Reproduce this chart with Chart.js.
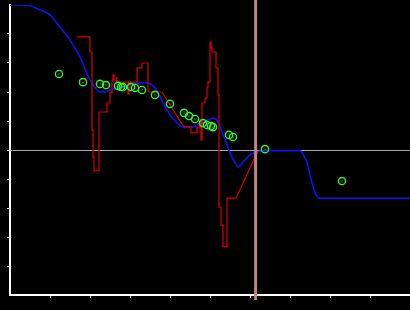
<!DOCTYPE html>
<html>
<head>
<meta charset="utf-8">
<script src="https://cdn.jsdelivr.net/npm/chart.js@4.4.1/dist/chart.umd.min.js"></script>
<style>
    html, body { margin: 0; padding: 0; background: #000; }
    #wrap { width: 410px; height: 310px; }
</style>
</head>
<body>
<div id="wrap"><canvas id="fitChart" width="410" height="310"></canvas></div>
<script>
// Smooth model curve (blue)
const blueX = [0, 0.25, 0.5, 0.75, 1, 1.25, 1.5, 1.75, 2, 2.13, 2.25, 2.38, 2.5, 2.75, 3, 3.25, 3.45, 3.58, 3.68, 3.83, 4, 4.18, 4.33, 4.58, 4.75, 4.93, 5.08, 5.2, 5.3, 5.4, 5.5, 5.63, 5.7, 5.83, 6, 6.13, 6.3, 7.25, 7.35, 7.43, 7.5, 7.58, 7.65, 7.73, 10];
const blueY = [5, 5, 4.97, 4.83, 4.66, 4.24, 3.79, 3.21, 2.41, 2.14, 2.0, 2.0, 2.07, 2.14, 2.24, 2.31, 2.31, 2.21, 2.03, 1.62, 1.21, 0.93, 0.79, 0.79, 0.93, 1.03, 1.10, 0.97, 0.62, 0.28, -0.10, -0.45, -0.59, -0.41, -0.17, -0.10, -0.03, -0.03, -0.21, -0.45, -0.86, -1.28, -1.55, -1.66, -1.66];

// Raw step signal (red), corner by corner
const redX = [1.675, 2, 2, 2.05, 2.05, 2.075, 2.075, 2.1, 2.1, 2.225, 2.225, 2.425, 2.425, 2.5, 2.5, 2.55, 2.55, 2.575, 2.575, 2.6, 2.6, 2.65, 2.65, 2.675, 2.675, 2.95, 2.95, 2.975, 2.975, 3.175, 3.175, 3.3, 3.3, 3.45, 3.45, 3.8, 4.05, 4.3, 4.375, 4.525, 4.525, 4.675, 4.675, 4.75, 4.75, 4.775, 4.775, 4.8, 4.8, 4.875, 4.875, 4.925, 4.925, 4.95, 4.95, 5, 5, 5.025, 5.025, 5.05, 5.05, 5.15, 5.15, 5.2, 5.2, 5.225, 5.225, 5.275, 5.275, 5.325, 5.325, 5.425, 5.425, 5.65, 6.2];
const redY = [3.90, 3.90, 3.38, 3.38, 0.69, 0.69, -0.24, -0.24, -0.72, -0.72, 1.31, 1.31, 1.62, 1.62, 1.97, 1.97, 2.41, 2.41, 2.59, 2.59, 2.41, 2.41, 2.52, 2.52, 2.34, 2.34, 1.93, 1.93, 2.34, 2.34, 2.83, 2.83, 3.00, 3.00, 2.00, 2.00, 1.45, 0.90, 0.79, 0.79, 0.59, 0.59, 0.79, 0.79, 1.03, 1.03, 0.34, 0.34, 1.62, 1.62, 1.79, 1.79, 2.17, 2.17, 2.34, 2.34, 3.72, 3.72, 3.52, 3.52, 3.38, 3.38, 2.83, 2.83, 1.90, 1.90, -1.97, -1.97, -2.59, -2.59, -3.34, -3.34, -1.66, -1.66, -0.03];

// Measured samples (green circles)
const sampleX = [1.225, 1.825, 2.25, 2.4, 2.7, 2.775, 2.825, 3.025, 3.125, 3.3, 3.625, 4.0, 4.35, 4.475, 4.625, 4.825, 4.925, 5.025, 5.075, 5.475, 5.575, 6.375, 8.3];
const sampleY = [2.62, 2.34, 2.28, 2.24, 2.21, 2.17, 2.17, 2.17, 2.14, 2.07, 1.90, 1.59, 1.28, 1.17, 1.07, 0.93, 0.86, 0.83, 0.79, 0.52, 0.45, 0.03, -1.07];

// Cursor position and axis range
const cursorX = 6.14;
const xRange = [0, 10];
const yRange = [-5, 5];

const toPoints = (xs, ys) => xs.map((x, i) => ({ x: x, y: ys[i] }));

// zero line under the data, cursor over everything
const guides = {
    id: 'guides',
    beforeDatasetsDraw(chart) {
        const { ctx, chartArea, scales } = chart;
        const y0 = Math.round(scales.y.getPixelForValue(0)) + 0.5;
        ctx.save();
        ctx.strokeStyle = '#a8a8a8';
        ctx.lineWidth = 1;
        ctx.beginPath();
        ctx.moveTo(chartArea.left, y0);
        ctx.lineTo(chartArea.right, y0);
        ctx.stroke();
        ctx.restore();
    },
    afterDraw(chart) {
        const { ctx, chartArea, scales } = chart;
        const cx = scales.x.getPixelForValue(cursorX);
        ctx.save();
        ctx.strokeStyle = '#bb8585';
        ctx.lineWidth = 3;
        ctx.beginPath();
        ctx.moveTo(cx, 0);
        ctx.lineTo(cx, chartArea.bottom + 5);
        ctx.stroke();
        ctx.restore();
    }
};

const edgeTick = (range) => (ctx) =>
    (ctx.tick && (ctx.tick.value === range[0] || ctx.tick.value === range[1])) ? 'rgba(0,0,0,0)' : '#ffffff';

new Chart(document.getElementById('fitChart'), {
    type: 'line',
    data: {
        datasets: [
            {
                label: 'sample dots',
                data: toPoints(sampleX, sampleY),
                showLine: false,
                pointRadius: 0.7,
                pointBorderWidth: 0,
                pointBackgroundColor: '#33f033'
            },
            {
                label: 'samples',
                data: toPoints(sampleX, sampleY),
                showLine: false,
                pointRadius: 3.6,
                pointBorderWidth: 1.4,
                pointBorderColor: '#33f033',
                pointBackgroundColor: 'rgba(0,0,0,0)'
            },
            {
                label: 'raw',
                data: toPoints(redX, redY),
                borderColor: '#d80000',
                borderWidth: 1.2,
                pointRadius: 0,
                tension: 0
            },
            {
                label: 'model',
                data: toPoints(blueX, blueY),
                borderColor: '#1010ff',
                borderWidth: 1.5,
                pointRadius: 0,
                cubicInterpolationMode: 'monotone'
            }
        ]
    },
    options: {
        responsive: false,
        animation: false,
        events: [],
        layout: { autoPadding: false, padding: { left: 7, top: 5, right: 0, bottom: 12 } },
        plugins: { legend: { display: false }, tooltip: { enabled: false } },
        scales: {
            x: {
                type: 'linear',
                min: xRange[0],
                max: xRange[1],
                ticks: { display: false, stepSize: 1 },
                grid: { drawOnChartArea: false, drawTicks: true, tickLength: 3, color: edgeTick(xRange) },
                border: { display: true, color: '#ffffff', width: 2 }
            },
            y: {
                min: yRange[0],
                max: yRange[1],
                ticks: { display: false, stepSize: 1 },
                grid: { drawOnChartArea: false, drawTicks: true, tickLength: 3, color: edgeTick(yRange) },
                border: { display: true, color: '#ffffff', width: 2 }
            }
        }
    },
    plugins: [guides]
});
</script>
</body>
</html>
